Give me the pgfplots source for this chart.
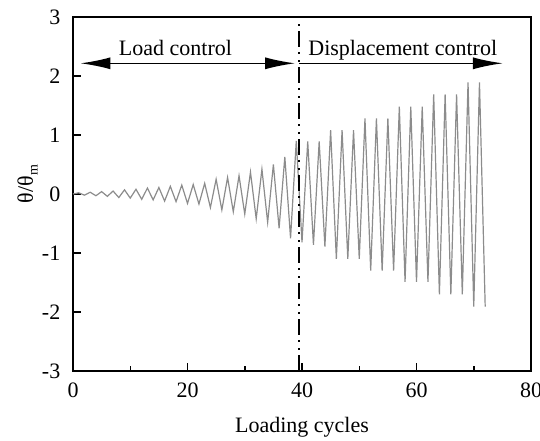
\documentclass[border=0pt]{standalone}
\usepackage{fontspec}
\setmainfont{Liberation Serif}
\usepackage{pgfplots}
\pgfplotsset{compat=1.18}
\usetikzlibrary{arrows.meta}
\definecolor{lgray}{RGB}{140,140,140}
\begin{document}
\fontsize{11bp}{13bp}\selectfont
\begin{tikzpicture}
\begin{axis}[
  scale only axis, width=229bp, height=177bp,
  xmin=0, xmax=80, ymin=-3, ymax=3,
  xtick={0,20,40,60,80}, minor xtick={10,30,50,70},
  ytick={-3,-2,-1,0,1,2,3},
  tick align=inside, xtick pos=bottom, ytick pos=left,
  major tick length=4bp, minor tick length=2.5bp,
  axis line style={line width=0.75bp},
  every tick/.style={black, line width=0.75bp},
  tick label style={font=\fontsize{11bp}{13bp}\selectfont},
  yticklabel style={xshift=-2.5bp},
  xticklabel style={yshift=-2bp},
  /pgf/number format/assume math mode=true,
  xlabel={Loading cycles},
  xlabel style={at={(axis description cs:0.5,0)}, anchor=base, yshift=-31bp},
  ylabel={θ/θ\raisebox{-0.45ex}{\fontsize{7bp}{8bp}\selectfont m}},
  ylabel style={at={(axis description cs:0,0.528)}, anchor=base, yshift=20bp},
  clip=false,
]
\addplot[lgray, line width=0.6bp] coordinates {
(0,0) (1,0.02) (2,-0.02) (3,0.03) (4,-0.03) (5,0.04) (6,-0.04) (7,0.05) (8,-0.06)
(9,0.07) (10,-0.07) (11,0.08) (12,-0.09) (13,0.10) (14,-0.10) (15,0.11) (16,-0.12)
(17,0.13) (18,-0.13) (19,0.15) (20,-0.16) (21,0.16) (22,-0.17) (23,0.18) (24,-0.23)
(25,0.25) (26,-0.27) (27,0.28) (28,-0.30) (29,0.31) (30,-0.34) (31,0.37) (32,-0.42)
(33,0.42) (34,-0.48) (35,0.50) (36,-0.58) (37,0.63) (38,-0.75) (39,0.90) (40,-0.82)
(41,0.89) (42,-0.86) (43,0.89) (44,-0.89) (45,1.08) (46,-1.10) (47,1.08) (48,-1.10)
(49,1.08) (50,-1.10) (51,1.28) (52,-1.30) (53,1.28) (54,-1.30) (55,1.28) (56,-1.30)
(57,1.48) (58,-1.49) (59,1.48) (60,-1.49) (61,1.48) (62,-1.49) (63,1.69) (64,-1.70)
(65,1.69) (66,-1.70) (67,1.69) (68,-1.70) (69,1.89) (70,-1.91) (71,1.89) (72,-1.91)
};
\addplot[black, line width=1bp, dash pattern=on 8bp off 2.5bp on 1bp off 3bp on 1bp off 2.5bp] coordinates {(39.5,-3) (39.5,3)};
\addplot[black, line width=0.8bp, {Latex[length=15bp,width=6bp]}-{Latex[length=15bp,width=6bp]}] coordinates {(1.3,2.215) (38.8,2.215)};
\addplot[black, line width=0.8bp, -{Latex[length=15bp,width=6bp]}] coordinates {(39.5,2.215) (75.1,2.215)};
\node[anchor=base, inner sep=0pt] at (axis cs:17.9,2.34) {Load control};
\node[anchor=base, inner sep=0pt] at (axis cs:57.6,2.34) {Displacement control};
\end{axis}
\pgfresetboundingbox
\path[use as bounding box] ([shift={(-36.5bp,-35bp)}]current axis.south west) rectangle ([shift={(4.5bp,8.5bp)}]current axis.north east);
\end{tikzpicture}
\end{document}
